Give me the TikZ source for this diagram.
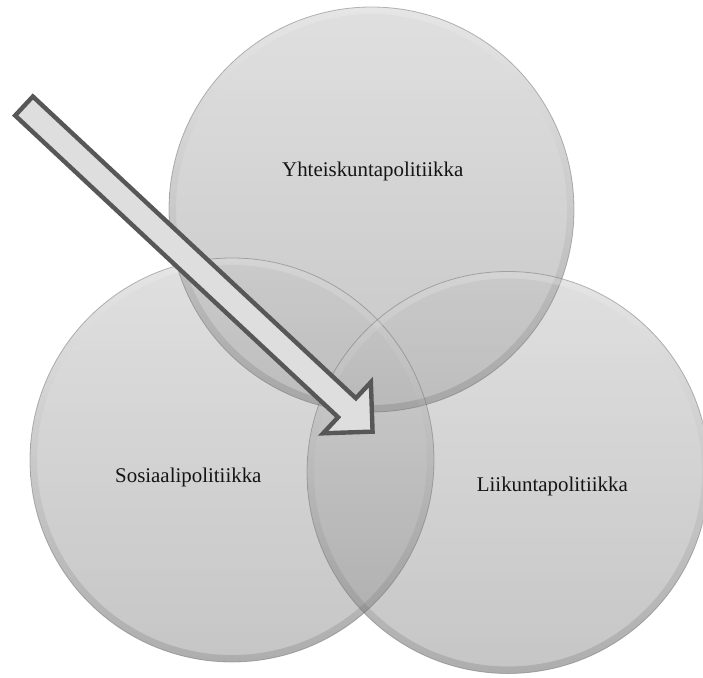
\documentclass[tikz,border=0pt]{standalone}
\usepackage{fontspec}
\setmainfont{Liberation Serif}
\begin{document}
\begin{tikzpicture}[x=1pt,y=-1pt,
  venn/.style={circle, inner sep=0pt, minimum size=#1,
    shade, top color=black!22, bottom color=black!40, fill opacity=0.56},
  rim/.style={draw=black!55, draw opacity=0.5, line width=0.8pt},
  label/.style={font=\fontsize{20.9}{25}\selectfont, text=black!92, inner sep=0pt},
  bigarrow/.style={draw=black!66, fill=black!13, line width=4.4pt, line join=miter}]
\useasboundingbox (0,0) rectangle (703,677);

% three overlapping translucent discs
\node[venn=405pt] (yht) at (371.5,209.5) {};
\node[venn=404pt] (sos) at (232,460) {};
\node[venn=402pt] (lii) at (508,472.5) {};

% soft bevel and rim on each disc
\foreach \c/\r in {yht/202.5, sos/202, lii/201}{
  \shade[even odd rule, top color=white, bottom color=black!70, opacity=0.2]
    (\c.center) circle[radius=\r] (\c.center) circle[radius=\r-7];
  \draw[rim] (\c.center) circle[radius=\r];
}

% labels
\node[label, anchor=base west] (tyht) at (282,176) {Yhteiskuntapolitiikka};
\node[label, anchor=base west] (tsos) at (115,482) {Sosiaalipolitiikka};
\node[label, anchor=base east] (tlii) at (628,491) {Liikuntapolitiikka};

% block arrow pointing into the common area
\coordinate (tail) at (24,106);
\begin{scope}[shift={(tail)}, rotate=-43.05]
  \draw[bigarrow] (0,-13) -- (442,-13) -- (442,-35) -- (477,0)
    -- (442,35) -- (442,13) -- (0,13) -- cycle;
\end{scope}
\end{tikzpicture}
\end{document}
